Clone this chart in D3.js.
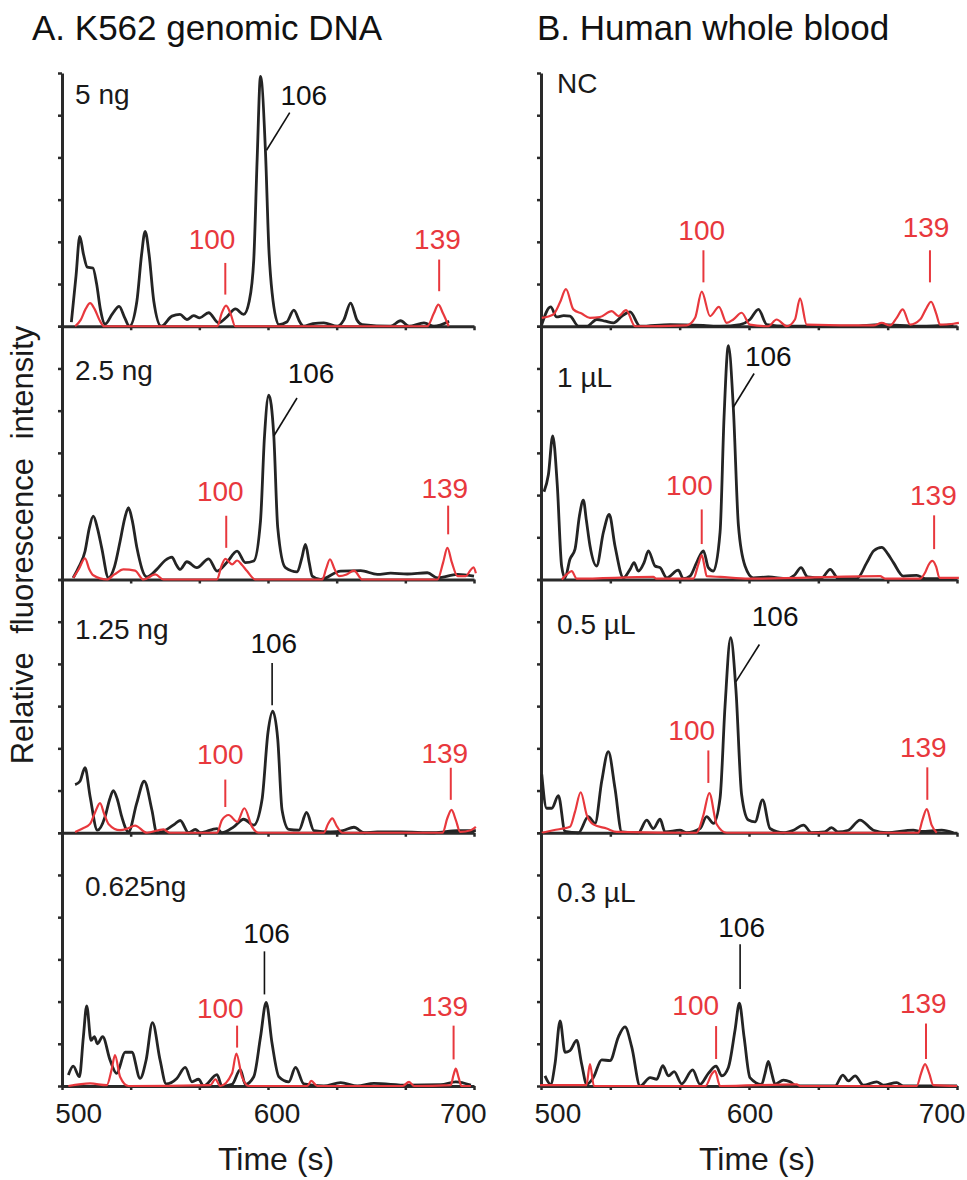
<!DOCTYPE html>
<html><head><meta charset="utf-8">
<script src="https://cdn.jsdelivr.net/npm/d3@7"></script>
<style>
body{margin:0;background:#fff}
svg{display:block}
text{font-family:"Liberation Sans",Arial,Helvetica,sans-serif}
</style>
</head><body>
<svg id="c" width="967" height="1180"></svg>
<script>
// ---------- data ----------
const timeDomain = [490, 710];
const xTickValues = d3.range(7).map(i => 490 + i * 220 / 6);
const xTickLabels = [500, 600, 700];
const yTickValues = [0, 1, 2, 3, 4, 5, 6];
const titles = ["A. K562 genomic DNA", "B. Human whole blood"];
const panelNamesA = ["5 ng", "2.5 ng", "1.25 ng", "0.625ng"];
const panelNamesB = ["NC", "1 \u00b5L", "0.5 \u00b5L", "0.3 \u00b5L"];

// Panel A (K562 genomic DNA) traces: [time (s), relative intensity]
const a1Black = [[495,0.1],[497.5,1.2],[499.5,2.13],[501.5,1.7],[503.5,1.4],[506.5,1.38],[508.5,1.0],[510.5,0.4],[513,0.05],[517,0.3],[520.5,0.47],[523.5,0.2],[526,0],[530,0.6],[532.5,1.7],[534.4,2.25],[536.5,1.7],[539,0.6],[543,0],[548.7,0.24],[553,0.28],[556.7,0.16],[560.3,0.25],[563.5,0.2],[568.3,0.32],[573.6,0.08],[578,0.22],[582.6,0.41],[587,0.28],[590,0.6],[592.4,1.58],[594.2,3.95],[596,5.92],[598.6,4.19],[600.5,1.8],[602.2,0.79],[605.8,0.04],[610,0.1],[613.8,0.38],[617,0.1],[619,0],[624,0.06],[629.8,0.08],[637,0],[640.5,0.15],[644.1,0.55],[647.5,0.15],[650.3,0.04],[665.5,0],[670.8,0.13],[675.3,0],[683.3,0.08],[688.6,0],[696.7,0.12]];
const a1Red = [[497,0],[500,0.15],[502.5,0.4],[505,0.55],[507.5,0.4],[510,0.15],[512.5,0],[573,0],[575.2,0.3],[577.6,0.49],[580,0.3],[582.5,0],[685,0],[688.5,0.3],[691,0.51],[693.5,0.3],[696.5,0]];
const a2Black = [[496,0.04],[499,0.3],[502.3,0.67],[504.5,1.2],[506.7,1.5],[509,1.2],[511.2,0.75],[514.8,0.04],[518,0.3],[521,0.9],[523.5,1.45],[525.5,1.7],[527.5,1.4],[530,0.75],[535.3,0.06],[540.6,0.24],[545,0.45],[548.7,0.53],[551,0.35],[553.1,0.24],[556.7,0.42],[562,0.28],[568.3,0.49],[572.8,0.2],[578,0.4],[583.5,0.67],[587.9,0.4],[592.4,0.44],[596,1.39],[598.1,3.37],[600.4,4.37],[603.1,3.4],[605.2,1.23],[609.3,0.28],[615.6,0.18],[618,0.5],[620,0.83],[622,0.4],[623.6,0.08],[628,0],[638.8,0.2],[649.5,0.21],[658.4,0.12],[665.5,0.15],[674.4,0.13],[685.1,0.16],[690.5,0.04],[701.2,0.12],[710,0.08]];
const a2Red = [[496,0.04],[499,0.25],[502.3,0.5],[504.5,0.25],[506.7,0.1],[513.9,0],[518,0.12],[522.8,0.24],[529,0.21],[533.5,0],[539.8,0.12],[544.2,0],[572.8,0],[575,0.3],[577.2,0.49],[580.8,0.36],[583.5,0.45],[586,0.35],[588.8,0.2],[593.3,0],[629,0],[631,0.25],[633.1,0.48],[635.5,0.25],[637.9,0.08],[642,0.12],[645.9,0.21],[650.4,0],[690.5,0],[693.5,0.4],[695.8,0.75],[698.2,0.4],[701.2,0.08],[705.7,0.08],[707.8,0.2],[709.8,0.29],[711,0.15]];
const a3Black = [[497,1.14],[499.6,1.22],[502.3,1.54],[505,0.86],[508.9,0.06],[513,0.38],[515.5,0.8],[517.4,1.0],[519.5,0.8],[521.9,0.38],[525.5,0.02],[529.9,0.7],[533.9,1.22],[538,0.54],[540.6,0],[546,0.08],[550,0.2],[553.1,0.29],[557.6,0],[561.2,0.08],[563.8,0],[572.8,0.1],[575.4,0],[581.7,0.14],[587,0.32],[592.4,0.18],[596.8,0.78],[600,2.38],[602.5,2.88],[605.2,2.22],[607.5,0.54],[611.1,0.08],[616.5,0.06],[620.6,0.48],[624.5,0.05],[633.4,0.02],[640,0.05],[645.9,0.13],[651.3,0],[658.4,0.02],[670.9,0.02],[688.7,0],[701.2,0.05],[711,0.05]];
const a3Red = [[497,0.02],[501,0.1],[505,0.21],[507.8,0.5],[510.3,0.7],[512.5,0.45],[514.8,0.21],[521,0.06],[525,0.1],[529,0.17],[535.3,0],[544.2,0.08],[547.5,0],[572.8,0],[575.4,0.3],[579,0.42],[583.5,0.26],[587.4,0.58],[591.5,0.14],[595,0],[629.8,0],[632,0.2],[634.3,0.34],[636.8,0.15],[639.7,0],[693.2,0],[695.8,0.35],[698,0.54],[700.3,0.3],[702.6,0.02],[708.3,0.06],[711,0.14]];
const a4Black = [[493.4,0.26],[496,0.47],[499.3,0.22],[501.4,1.16],[503.2,1.9],[505.5,1.08],[507.3,1.17],[508.9,1.0],[511.7,1.17],[515.7,0.61],[519.2,0.3],[523.7,0.8],[527.3,0.8],[531.7,0.18],[534.9,0.61],[538.3,1.5],[542.4,0.61],[545.6,0.05],[551.3,0.18],[555.8,0.44],[559.4,0.1],[562.9,0.16],[565.6,0],[572.8,0.27],[575.4,0],[580.8,0.04],[585.2,0.39],[587.9,0.04],[592.4,0.22],[596,1.16],[599,1.98],[602.2,1.0],[605.8,0.22],[611.1,0.1],[614.7,0.44],[619.1,0.05],[629.8,0],[638.8,0.08],[647.7,0],[656.6,0.06],[674.4,0.02],[692.3,0.03],[700.3,0.1],[708.3,0.02]];
const a4Red = [[493.4,0],[505,0.06],[513.9,0.02],[516.6,0.41],[518.3,0.73],[521,0.22],[525.5,0],[569.2,0.02],[571.9,0.16],[574.5,0],[580.8,0.3],[583.1,0.77],[586.1,0.22],[589.7,0],[621,0],[623.1,0.12],[626.3,0],[672,0],[675.3,0.1],[678,0],[697.6,0.02],[699,0.25],[700.3,0.41],[701.8,0.2],[703.3,0],[708.3,0]];

// Panel B (human whole blood) traces
const b1Black = [[490.4,0.04],[495.1,0.46],[498.3,0.22],[502,0.25],[505.3,0.24],[509.8,0],[514.2,0],[519.5,0.16],[524,0.12],[528.3,0.08],[533,0.25],[537.1,0.34],[542.4,0],[558.2,0.04],[575.9,0.02],[585,0],[595.3,0.04],[600.5,0.16],[605,0.4],[609.4,0.04],[620,0],[655.2,0],[669.3,0.04],[690.5,0],[708.1,0.04]];
const b1Red = [[490.4,0.2],[496.5,0.28],[500,0.56],[503.2,0.88],[507.1,0.4],[511.5,0.3],[515.9,0.2],[521.2,0.22],[527.4,0.36],[530.9,0.24],[535,0.38],[539.7,0],[567,0.02],[571.5,0.2],[575,0.82],[579.4,0.24],[584.1,0.46],[588.2,0.08],[591.7,0.16],[596.1,0.32],[600.5,0.04],[610.2,0],[614.6,0.16],[620,0],[624.3,0.16],[627,0.66],[630.5,0.04],[665.8,0.02],[670.2,0.08],[674.6,0.02],[678.1,0.2],[681.3,0.4],[685.2,0.04],[690.5,0.16],[693.5,0.4],[696.3,0.58],[699,0.3],[701,0.04],[708.1,0.06],[711,0.08]];
const b2Black = [[491.6,2.08],[493.9,2.48],[496.2,3.4],[498.6,2.24],[500.9,0.32],[502.7,0.04],[505.3,0.48],[508,0.72],[510.3,1.5],[512.4,1.88],[514,1.4],[515.9,0.8],[519.4,0.32],[523,1.12],[526.1,1.54],[529.1,0.8],[533.6,0.04],[537.1,0.24],[539.2,0.4],[541.5,0.2],[544.5,0.4],[546.8,0.68],[550.3,0.32],[553,0.28],[556.5,0.04],[562.6,0.22],[565.3,0.02],[568.8,0.08],[572.3,0.4],[575.9,0.68],[578.5,0.28],[581.2,0.2],[584.7,1.12],[586.8,3.84],[589.1,5.54],[591.7,4.08],[594.4,1.28],[597.9,0.32],[602.3,0.04],[610.2,0.06],[620,0.02],[624,0.1],[627.5,0.28],[631,0.06],[638.5,0.04],[642.9,0.24],[647.3,0.02],[657,0.02],[662.3,0.4],[666,0.68],[670.2,0.76],[673.5,0.6],[676.4,0.4],[681.6,0.08],[688.7,0.1],[693.1,0.02],[708.1,0.02]];
const b2Red = [[501,0],[503.6,0.12],[506.2,0.2],[508.9,0.02],[549.4,0.06],[551,0.02],[570.6,0.02],[573.2,0.36],[575,0.58],[576.5,0.3],[577.6,0.08],[585,0.06],[600,0.02],[669.3,0.08],[672,0.02],[690.5,0.02],[693.1,0.16],[695,0.35],[697,0.44],[699,0.3],[700.7,0.04],[711,0.04]];
const b3Black = [[490.4,1.38],[493,0.58],[495.7,0.58],[499.2,0.88],[502.7,0.03],[509.8,0],[515,0.38],[518.6,0.22],[522.1,1.22],[525.6,1.92],[529.1,1.06],[532.7,0.02],[541.5,0],[545.9,0.3],[549.4,0.1],[553,0.32],[555.6,0.02],[563.5,0.06],[567,0],[574.1,0.1],[577.6,0.38],[581.2,0.22],[584.7,0.82],[587.3,2.98],[590.3,4.62],[593.1,3.38],[596.1,0.9],[599.7,0.3],[603.2,0.26],[607.2,0.78],[611.1,0.1],[618.2,0],[623.5,0.06],[628.8,0.18],[633.2,0],[640,0.02],[643.7,0.12],[647,0.02],[652.6,0.06],[658.7,0.3],[665.8,0.06],[672.8,0],[686.9,0.06],[691,0.03],[701.9,0.06],[708.1,0]];
const b3Red = [[490.4,0],[496.5,0.06],[505.3,0.14],[508,0.5],[511,0.96],[514.2,0.42],[517.7,0.2],[524.7,0.1],[530,0.02],[572.3,0],[575.9,0.42],[579,0.94],[582.9,0.2],[588.2,0],[689.6,0],[691.7,0.3],[694,0.56],[696.6,0.18],[699.3,0]];
const b4Black = [[492.1,0.24],[495.1,0.04],[497.4,0.52],[500.1,1.54],[502.7,0.8],[505.3,0.84],[508.9,1.08],[511.5,0.52],[514.2,0.04],[517.7,0.2],[522.1,0.62],[526.5,0.6],[530.9,1.16],[534.4,1.4],[538,0.92],[542.4,0],[547.7,0.2],[551.2,0.16],[554.4,0.48],[557.4,0.24],[560.4,0.34],[564.4,0.05],[570.2,0.38],[574.1,0.04],[578.5,0.3],[582.6,0.47],[585.6,0.24],[589.1,0.44],[592.6,1.32],[594.9,1.96],[597.4,1.16],[600.5,0.2],[606.7,0.04],[608.5,0.3],[610.2,0.58],[612,0.3],[613.8,0.04],[618.2,0.14],[621.7,0.1],[625.2,0],[645.5,0],[649.6,0.26],[652.6,0.12],[656.1,0.24],[660.5,0.02],[667.5,0.1],[671,0.02],[678.1,0.08],[681.6,0],[710,0]];
const b4Red = [[489.5,0.02],[514,0.02],[515.9,0.52],[518,0],[577,0],[580.3,0.28],[582,0.36],[584.7,0],[625.2,0.04],[627,0],[688.7,0],[691,0.3],[693.1,0.52],[695.3,0.3],[697.5,0.02],[710,0]];

// peak annotations (fragment size labels)
const peakLabels = ["106", "100", "139"];

// ---------- layout (positions, in chart coordinates) ----------
const annA = [
  [{t:619.1,v:5.25,l:[[599.2,4.17],[611.6,5.06]]},{t:570.1,v:1.82,l:[[577.2,1.5],[577.2,0.75]]},{t:690.5,v:1.82,l:[[691.4,1.58],[691.4,0.83]]}],
  [{t:623,v:4.66,l:[[603.1,3.4],[615.5,4.3]]},{t:574.5,v:1.87,l:[[577.7,1.51],[577.7,0.75]]},{t:694.4,v:1.92,l:[[696.2,1.75],[696.2,1.07]]}],
  [{t:603.1,v:4.26,l:[[602.2,4.02],[602.2,3.02]]},{t:574.5,v:1.62,l:[[577.2,1.26],[577.2,0.61]]},{t:694.4,v:1.66,l:[[697.6,1.54],[697.6,0.78]]}],
  [{t:599.2,v:3.38,l:[[598.1,3.19],[598.1,2.17]]},{t:574.5,v:1.61,l:[[583.5,1.43],[583.5,0.91]]},{t:694.4,v:1.66,l:[[699.1,1.43],[699.1,0.63]]}]
];
const annB = [
  [null,{t:575,v:2.04,l:[[575.9,1.8],[575.9,1.04]]},{t:693.6,v:2.12,l:[[695.7,1.8],[695.7,1.04]]}],
  [{t:610.2,v:5.06,l:[[591.7,4.08],[602.7,4.88]]},{t:568.5,v:2.0,l:[[575,1.66],[575,0.84]]},{t:697.5,v:1.76,l:[[697.9,1.52],[697.9,0.72]]}],
  [{t:613.8,v:4.91,l:[[593.1,3.58],[605.5,4.46]]},{t:569.7,v:2.19,l:[[578.5,1.95],[578.5,1.18]]},{t:692.2,v:1.79,l:[[694.3,1.55],[694.3,0.78]]}],
  [{t:596.1,v:3.54,l:[[595.3,3.36],[595.3,2.3]]},{t:571.8,v:1.68,l:[[582.6,1.42],[582.6,0.64]]},{t:692.2,v:1.72,l:[[693.6,1.48],[693.6,0.64]]}]
];
const nameA = [[497,5.27],[497,4.73],[497,4.59],[502.3,4.5]];
const nameB = [[498.5,5.53],[498.5,4.56],[498.5,4.71],[498.5,4.36]];

const columns = [
  {x0:62, x1:474, titleX:32, names:panelNamesA, namePos:nameA, ann:annA,
   traces:[[a1Black,a1Red],[a2Black,a2Red],[a3Black,a3Red],[a4Black,a4Red]], lblDx:[-2,9,8]},
  {x0:541, x1:957, titleX:537, names:panelNamesB, namePos:nameB, ann:annB,
   traces:[[b1Black,b1Red],[b2Black,b2Red],[b3Black,b3Red],[b4Black,b4Red]], lblDx:[-2,1,4]}
];

const TOP = 73, BOTTOM = 1086, ROWH = (BOTTOM - TOP) / 4;
const BLACK = "#242424", RED = "#e8383d", AXIS = "#2a2a2a";

const svg = d3.select("#c");

columns.forEach((col, ci) => {
  const x = d3.scaleLinear().domain(timeDomain).range([col.x0, col.x1]);
  svg.append("text").attr("x", col.titleX).attr("y", 40)
    .attr("font-size", 35).attr("fill", "#111").text(titles[ci]);

  col.traces.forEach((tr, i) => {
    const base = TOP + ROWH * (i + 1);
    const y = d3.scaleLinear().domain([0, 6]).range([base, base - ROWH]);
    const g = svg.append("g");

    const ya = g.append("g").attr("transform", `translate(${col.x0},0)`)
      .call(d3.axisLeft(y).tickValues(yTickValues).tickSize(4).tickSizeOuter(0).tickFormat(""));
    const xa = g.append("g").attr("transform", `translate(0,${base})`)
      .call(d3.axisBottom(x).tickValues(xTickValues).tickSize(4).tickSizeOuter(0).tickFormat(""));
    [ya, xa].forEach(a => {
      a.select(".domain").attr("stroke", AXIS).attr("stroke-width", 3);
      a.selectAll(".tick line").attr("stroke", AXIS).attr("stroke-width", 2.5);
    });

    const line = d3.line().x(d => x(d[0])).y(d => y(d[1])).curve(d3.curveMonotoneX);
    g.append("path").datum(tr[0]).attr("d", line).attr("fill", "none")
      .attr("stroke", BLACK).attr("stroke-width", 2.8).attr("stroke-linejoin", "round");
    g.append("path").datum(tr[1]).attr("d", line).attr("fill", "none")
      .attr("stroke", RED).attr("stroke-width", 2.2).attr("stroke-linejoin", "round");

    // panel name
    const np = col.namePos[i];
    g.append("text").attr("x", x(np[0])).attr("y", y(np[1]))
      .attr("font-size", 28).attr("fill", "#1a1a1a").text(col.names[i]);

    // annotations
    col.ann[i].forEach((a, k) => {
      if (!a) return;
      const c = k === 0 ? "#111" : RED;
      g.append("line").attr("x1", x(a.l[0][0])).attr("y1", y(a.l[0][1]))
        .attr("x2", x(a.l[1][0])).attr("y2", y(a.l[1][1]))
        .attr("stroke", c).attr("stroke-width", k === 0 ? 1.6 : 2);
      g.append("text").attr("x", x(a.t)).attr("y", y(a.v))
        .attr("text-anchor", "middle").attr("font-size", 28).attr("fill", c).text(peakLabels[k]);
    });

    if (i === 3) {
      xTickLabels.forEach((v, k) => {
        g.append("text").attr("x", x(v) + col.lblDx[k]).attr("y", base + 37)
          .attr("text-anchor", "middle").attr("font-size", 28).attr("fill", "#1a1a1a").text(v);
      });
      g.append("text").attr("x", (col.x0 + col.x1) / 2 + 8).attr("y", base + 84)
        .attr("text-anchor", "middle").attr("font-size", 32).attr("fill", "#1a1a1a").text("Time (s)");
    }
  });
});

svg.append("text").attr("transform", "translate(33,545) rotate(-90)")
  .attr("text-anchor", "middle").attr("font-size", 31).attr("fill", "#1a1a1a")
  .attr("word-spacing", 10).text("Relative fluorescence intensity");
</script>
</body></html>
